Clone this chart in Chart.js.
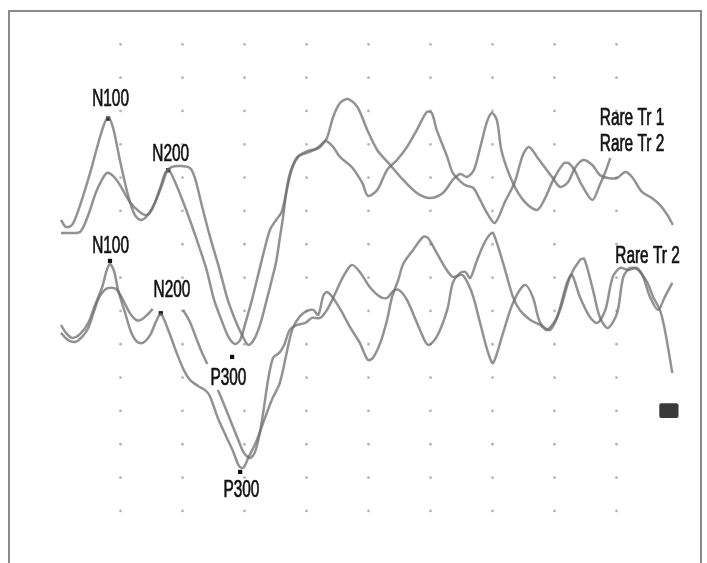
<!DOCTYPE html>
<html>
<head>
<meta charset="utf-8">
<title>ERP traces</title>
<script src="https://cdn.jsdelivr.net/npm/chart.js@4/dist/chart.umd.min.js"></script>
<style>
  html, body { margin: 0; padding: 0; background: #fff; }
  #wrap { position: relative; width: 707px; height: 563px; overflow: hidden; }
  #frame { position: absolute; left: 8px; top: 10px; width: 690px; height: 600px;
           border: 2px solid #8a8a8a; border-bottom: none; }
  canvas { position: absolute; left: 0; top: 0; }
</style>
</head>
<body>
<div id="wrap">
  <div id="frame"></div>
  <canvas id="erpChart" width="707" height="563"></canvas>
</div>
<script>
// time in ms, amplitude in grid divisions (one dot row = 1)

// upper pair, trace 1
const up1T = [4, 12, 22, 35, 51, 62, 72, 80, 88, 99, 112, 123, 133, 144, 156, 167, 177, 190, 206, 222, 238, 251, 264, 275, 285, 293, 302, 312, 322, 332, 341, 351, 360, 369, 377, 388, 402, 415, 425, 433, 443, 454, 467, 482, 498, 514, 535, 556, 578, 599, 620, 636, 648, 659, 670, 680, 691, 699, 707, 715, 733, 752, 772, 785, 798, 814, 822, 832, 844, 861, 873, 882, 890];
const up1V = [1.73, 1.52, 1.58, 2.18, 3.14, 3.89, 4.52, 4.82, 4.49, 3.53, 2.48, 1.88, 1.73, 1.88, 2.27, 2.78, 3.23, 2.78, 2.03, 1.19, 0.29, -0.67, -1.33, -1.81, -1.99, -1.87, -1.33, -0.67, 0.08, 0.83, 1.43, 1.73, 1.97, 2.69, 3.29, 3.65, 3.8, 3.86, 4.01, 4.19, 4.82, 5.24, 5.36, 5.12, 4.43, 3.83, 3.38, 2.93, 2.54, 2.39, 2.54, 2.93, 3.11, 3.02, 3.23, 3.89, 4.67, 4.94, 4.73, 3.77, 2.84, 2.27, 2.03, 2.39, 2.93, 3.41, 3.44, 3.23, 2.78, 2.33, 2.78, 3.17, 3.59];

// upper pair, trace 2
const up2T = [4, 19, 35, 48, 60, 70, 78, 88, 99, 115, 131, 143, 152, 164, 173, 183, 196, 212, 220, 231, 244, 259, 273, 285, 296, 306, 315, 325, 335, 344, 351, 357, 362, 369, 375, 385, 396, 409, 422, 431, 443, 454, 473, 490, 499, 514, 530, 546, 562, 578, 594, 602, 610, 627, 636, 651, 659, 669, 680, 693, 704, 720, 736, 749, 759, 773, 796, 809, 822, 833, 846, 861, 873, 886, 901, 914, 925, 941, 957, 970, 982, 991];
const up2V = [1.34, 1.34, 1.37, 1.88, 2.54, 2.93, 3.14, 3.05, 2.78, 2.27, 1.97, 1.88, 2.09, 2.69, 3.17, 3.32, 3.35, 3.29, 2.99, 2.18, 1.25, 0.29, -0.67, -1.27, -1.72, -2.02, -1.87, -1.42, -0.73, -0.07, 0.47, 1.19, 1.79, 2.78, 3.23, 3.62, 3.71, 3.8, 3.92, 4.1, 3.92, 3.62, 3.32, 2.84, 2.45, 2.63, 3.23, 3.53, 3.92, 4.43, 4.97, 4.94, 4.43, 3.62, 3.14, 2.84, 2.75, 2.69, 2.33, 1.88, 1.64, 2.27, 2.87, 3.68, 3.92, 3.59, 3.02, 2.72, 2.87, 3.29, 3.53, 3.38, 3.08, 2.99, 2.99, 3.17, 3.02, 2.57, 2.39, 2.18, 1.88, 1.58];

// lower pair, trace 1
const lo1T = [4, 12, 22, 35, 48, 59, 70, 78, 83, 90, 96, 107, 117, 127, 136, 148, 157, 165, 177, 190, 202, 212, 225, 236, 244, 257, 270, 282, 291, 298, 306, 320, 333, 344, 357, 369, 378, 390, 401, 411, 419, 427, 433, 443, 457, 470, 486, 499, 507, 519, 530, 538, 548, 556, 572, 588, 596, 610, 623, 636, 651, 660, 669, 680, 693, 701, 717, 733, 752, 765, 777, 793, 809, 825, 841, 848, 862, 873, 886, 901, 911, 922, 935, 950, 959, 970, 978, 990];
const lo1V = [-1.42, -1.66, -1.81, -1.69, -1.36, -0.82, -0.31, 0.23, 0.41, 0.17, -0.37, -1.03, -1.63, -1.93, -1.96, -1.72, -1.33, -1.09, -1.57, -2.23, -2.77, -3.07, -3.25, -3.37, -3.55, -4.21, -4.75, -5.23, -5.65, -5.71, -5.41, -4.87, -4.21, -3.67, -3.16, -2.17, -1.51, -1.15, -1.0, -0.97, -1.12, -0.55, -0.43, -0.61, -1.03, -1.48, -1.96, -2.47, -2.41, -1.96, -1.27, -0.58, -0.07, 0.41, 0.83, 1.22, 1.19, 0.74, 0.32, 0.02, 0.08, -0.16, -0.58, -1.36, -2.26, -2.56, -1.66, -0.76, -0.22, -0.58, -1.36, -1.57, -0.97, 0.02, 0.53, 0.56, -0.37, -1.18, -1.51, -1.06, 0.02, 0.29, 0.23, -0.16, -0.58, -0.97, -1.57, -2.86];

// lower pair, trace 2 (null = gap in the trace)
const lo2T = [4, 15, 27, 38, 48, 57, 65, 73, 80, 93, 104, 115, 125, 133, 143, 152, 176, 201, 212, 222, 231, 240, 248, 257, 264, 277, 290, 299, 309, 317, 325, 332, 338, 346, 356, 364, 373, 385, 398, 409, 422, 433, 443, 459, 473, 486, 502, 519, 530, 540, 549, 562, 583, 596, 610, 627, 636, 648, 656, 664, 674, 686, 695, 701, 717, 733, 744, 761, 777, 788, 804, 820, 828, 841, 857, 869, 882, 894, 906, 919, 933, 943, 954, 967, 978, 990];
const lo2V = [-1.66, -1.87, -1.93, -1.78, -1.51, -1.03, -0.61, -0.4, -0.31, -0.34, -0.67, -1.06, -1.27, -1.27, -1.12, -0.94, null, -0.97, -1.33, -1.81, -2.23, -2.59, null, -3.37, -3.67, -4.27, -4.87, -5.26, -5.41, -5.23, -4.63, -3.82, -3.07, -2.41, -2.26, -2.02, -1.57, -1.42, -1.36, -1.21, -1.21, -0.97, -0.61, 0.02, 0.38, 0.17, -0.28, -0.58, -0.61, -0.4, -0.37, -0.67, -1.57, -2.02, -1.78, -0.97, -0.16, 0.14, 0.17, -0.01, 0.47, 1.01, 1.28, 1.34, 0.44, -0.58, -0.97, -1.27, -1.42, -1.57, -1.18, -0.16, 0.08, -0.58, -1.18, -1.36, -0.97, 0.02, 0.29, 0.23, 0.29, 0.02, -0.58, -0.97, -0.58, -0.16];

// peak markers
const peakT = [80, 177, 83, 165, 280, 293];
const peakV = [4.77, 3.22, 0.5, -1.07, -2.38, -5.83];

// text labels (anchor = baseline)
const labelText = ["N100", "N200", "N100", "N200", "P300", "P300", "Rare Tr 1", "Rare Tr 2", "Rare Tr 2"];
const labelT = [84, 181, 84, 183, 274, 295, 873, 873, 898];
const labelV = [5.15, 3.5, 0.74, -0.58, -3.22, -6.58, 4.58, 3.81, 0.43];
const labelAlign = ["center", "center", "center", "center", "center", "center", "left", "left", "left"];

// dot grid and the small dark box at the right
const gridT = [100, 200, 300, 400, 500, 600, 700, 800, 900];
const gridV = [-7, -6, -5, -4, -3, -2, -1, 0, 1, 2, 3, 4, 5, 6, 7];
const flagT = [969, 1000];
const flagV = [-3.77, -4.21];

function toPoints(ts, vs) {
  return ts.map((t, i) => ({ x: t, y: vs[i] }));
}

const traceStyle = {
  borderColor: "rgba(110,110,110,0.75)",
  borderWidth: 2.5,
  pointRadius: 0,
  tension: 0.3,
  fill: false,
  spanGaps: false,
  clip: false,
};

const dotGrid = {
  id: "dotGrid",
  beforeDatasetsDraw(chart) {
    const { ctx, scales } = chart;
    ctx.save();
    ctx.fillStyle = "#b4b4b4";
    gridT.forEach((t) => {
      gridV.forEach((v) => {
        ctx.beginPath();
        ctx.arc(scales.x.getPixelForValue(t), scales.y.getPixelForValue(v), 1.4, 0, Math.PI * 2);
        ctx.fill();
      });
    });
    // dark box
    const x0 = scales.x.getPixelForValue(flagT[0]);
    const x1 = scales.x.getPixelForValue(flagT[1]);
    const y0 = scales.y.getPixelForValue(flagV[0]);
    const y1 = scales.y.getPixelForValue(flagV[1]);
    ctx.fillStyle = "#3a3a3a";
    ctx.beginPath();
    ctx.roundRect(x0, y0, x1 - x0, y1 - y0, 2);
    ctx.fill();
    ctx.restore();
  },
};

const peakLabels = {
  id: "peakLabels",
  afterDatasetsDraw(chart) {
    const { ctx, scales } = chart;
    ctx.save();
    ctx.fillStyle = "#111";
    ctx.strokeStyle = "#111";
    ctx.lineWidth = 0.7;
    ctx.font = "23px 'Liberation Sans', Arial, sans-serif";
    ctx.textBaseline = "alphabetic";
    labelText.forEach((txt, i) => {
      ctx.save();
      ctx.translate(scales.x.getPixelForValue(labelT[i]), scales.y.getPixelForValue(labelV[i]));
      ctx.scale(0.67, 1);
      ctx.textAlign = labelAlign[i];
      ctx.fillText(txt, 0, 0);
      ctx.strokeText(txt, 0, 0);
      ctx.restore();
    });
    ctx.restore();
  },
};

new Chart(document.getElementById("erpChart").getContext("2d"), {
  type: "line",
  data: {
    datasets: [
      { ...traceStyle, label: "Rare Tr 1", data: toPoints(up1T, up1V) },
      { ...traceStyle, label: "Rare Tr 2", data: toPoints(up2T, up2V) },
      { ...traceStyle, label: "Rare Tr 1 (lower)", data: toPoints(lo1T, lo1V) },
      { ...traceStyle, label: "Rare Tr 2 (lower)", data: toPoints(lo2T, lo2V) },
      {
        label: "peaks",
        data: toPoints(peakT, peakV),
        showLine: false,
        pointStyle: "rect",
        pointRadius: 3,
        pointBackgroundColor: "#111",
        pointBorderWidth: 0,
        clip: false,
      },
    ],
  },
  options: {
    responsive: false,
    animation: false,
    events: [],
    layout: { padding: { left: 58.5, right: 28.5, top: 44.3, bottom: 52.1 } },
    scales: {
      x: { type: "linear", min: 0, max: 1000, display: false },
      y: { type: "linear", min: -7, max: 7, display: false },
    },
    plugins: {
      legend: { display: false },
      tooltip: { enabled: false },
    },
  },
  plugins: [dotGrid, peakLabels],
});
</script>
</body>
</html>
